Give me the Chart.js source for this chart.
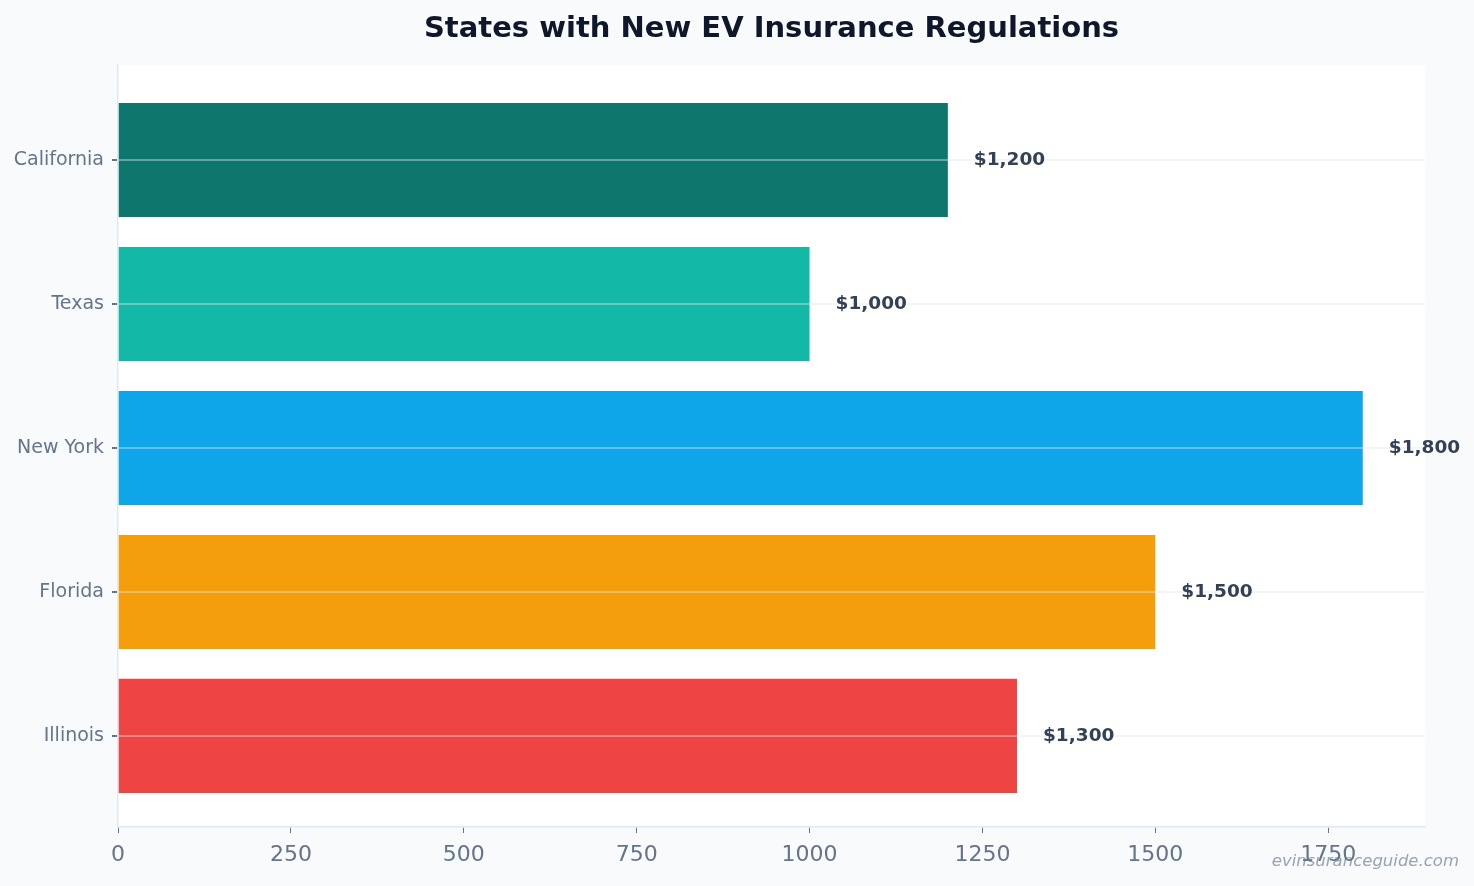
<!DOCTYPE html>
<html>
<head>
<meta charset="utf-8">
<title>States with New EV Insurance Regulations</title>
<script src="https://cdn.jsdelivr.net/npm/chart.js@4.4.1/dist/chart.umd.min.js"></script>
<style>
    html, body { margin: 0; padding: 0; background: #f8fafc; }
    #wrap { width: 1474px; height: 886px; }
</style>
</head>
<body>
<div id="wrap"><canvas id="evChart" width="1474" height="886"></canvas></div>
<script>
const states = ['California', 'Texas', 'New York', 'Florida', 'Illinois'];
const premiums = [1200, 1000, 1800, 1500, 1300];
const barColors = ['#0f766e', '#14b8a6', '#0ea5e9', '#f59e0b', '#ef4444'];
const xTicks = [0, 250, 500, 750, 1000, 1250, 1500, 1750];

const FONT = "'DejaVu Sans', sans-serif";

// fondo gris claro + area del grafico en blanco
const backgroundPlugin = {
    id: 'bg',
    beforeDraw(chart) {
        const { ctx, chartArea: a } = chart;
        ctx.save();
        ctx.fillStyle = '#f8fafc';
        ctx.fillRect(0, 0, chart.width, chart.height);
        ctx.fillStyle = '#ffffff';
        ctx.fillRect(a.left, a.top, a.right - a.left, a.bottom - a.top);
        ctx.restore();
    }
};

// etiquetas de valor a la derecha de cada barra + marca de agua
const labelPlugin = {
    id: 'valueLabels',
    afterDraw(chart) {
        const ctx = chart.ctx;
        const meta = chart.getDatasetMeta(0);
        ctx.save();
        ctx.font = `bold 18.5px ${FONT}`;
        ctx.fillStyle = '#334155';
        ctx.textAlign = 'left';
        ctx.textBaseline = 'middle';
        meta.data.forEach((bar, i) => {
            ctx.fillText('$' + premiums[i].toLocaleString('en-US'), bar.x + 26, bar.y);
        });
        ctx.font = `italic 16.5px ${FONT}`;
        ctx.fillStyle = 'rgba(100, 116, 139, 0.65)';
        ctx.textAlign = 'right';
        ctx.fillText('evinsuranceguide.com', 1459, 862);
        ctx.restore();
    }
};

new Chart(document.getElementById('evChart').getContext('2d'), {
    type: 'bar',
    data: {
        datasets: [{
            data: premiums.map((v, i) => ({ x: v, y: i })),
            backgroundColor: barColors,
            borderWidth: 0,
            categoryPercentage: 0.88,
            barPercentage: 0.9
        }]
    },
    options: {
        indexAxis: 'y',
        responsive: false,
        animation: false,
        layout: { padding: { left: 0, right: 49, top: 0, bottom: 0 } },
        plugins: {
            legend: { display: false },
            tooltip: { enabled: false },
            title: {
                display: true,
                fullSize: false,
                text: 'States with New EV Insurance Regulations',
                color: '#0f172a',
                font: { family: FONT, size: 29, weight: 'bold' },
                padding: { top: 12, bottom: 18 }
            }
        },
        scales: {
            x: {
                type: 'linear',
                min: 0,
                max: 1890,
                afterBuildTicks: (scale) => { scale.ticks = xTicks.map(v => ({ value: v })); },
                afterFit: (scale) => { scale.height = 59; },
                ticks: {
                    color: '#64748b',
                    font: { family: FONT, size: 22 },
                    padding: 9,
                    callback: (v) => String(v)
                },
                grid: { drawOnChartArea: false, tickLength: 6, tickColor: '#64748b' },
                border: { color: '#e2e8f0', width: 1.5 }
            },
            y: {
                type: 'linear',
                min: -0.661,
                max: 4.633,
                reverse: true,
                offset: false,
                afterBuildTicks: (scale) => { scale.ticks = states.map((s, i) => ({ value: i })); },
                afterFit: (scale) => { scale.width = 118; },
                ticks: {
                    color: '#64748b',
                    font: { family: FONT, size: 19 },
                    padding: 8,
                    callback: (v) => states[v]
                },
                // lineas de categoria encima de las barras
                grid: { offset: false, z: 1, color: 'rgba(226, 232, 240, 0.4)', lineWidth: 2, tickLength: 6, tickColor: '#64748b' },
                border: { z: 1, color: '#e2e8f0', width: 1.5 }
            }
        }
    },
    plugins: [backgroundPlugin, labelPlugin]
});
</script>
</body>
</html>
